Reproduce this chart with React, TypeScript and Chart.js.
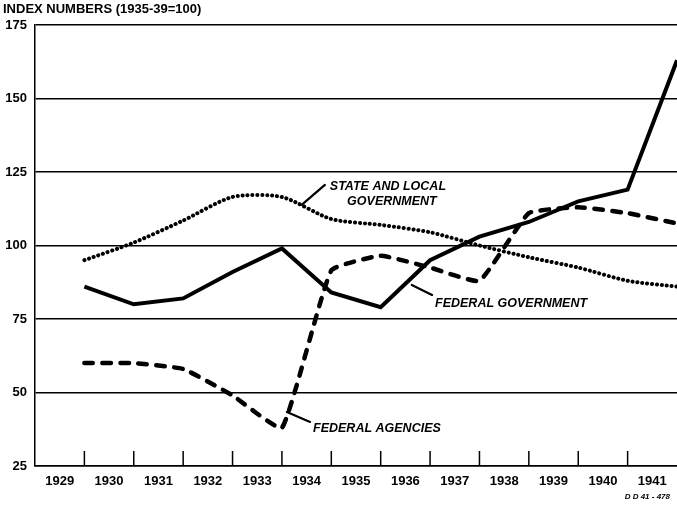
import React, { useEffect, useRef } from 'react';
import { Chart, registerables } from 'chart.js';

Chart.register(...registerables);

// Year labels on the x axis (each label sits in the middle of its year)
const yearLabels = ['1929', '1930', '1931', '1932', '1933', '1934', '1935', '1936', '1937', '1938', '1939', '1940', '1941'];
// Points are plotted at the boundaries between years
const pointYears = [1930, 1931, 1932, 1933, 1934, 1935, 1936, 1937, 1938, 1939, 1940, 1941, 1942];

const federalGovernment = [86, 80, 82, 91, 99, 84, 79, 95, 103, 108, 115, 119, 163];
const stateAndLocal = [95, 101, 108.5, 116.5, 116.5, 109, 107, 104.5, 100, 96, 92.5, 88, 86];
const federalAgencies = [60, 60, 58, 49, 38, 91.5, 96.5, 92.5, 88, 111, 113, 111, 107.5];

const yMin = 25;
const yMax = 175;
const yStep = 25;

const titleText = 'INDEX NUMBERS (1935-39=100)';
const creditText = 'D D 41 - 478';

// Annotation labels, placed in data coordinates
const annotations = [
  {
    lines: [
      { text: 'STATE AND LOCAL', x: 1934.97, y: 119.9 },
      { text: 'GOVERNMENT', x: 1935.32, y: 115.1 },
    ],
    leader: [[1934.87, 120.6], [1934.4, 113.8]],
  },
  {
    lines: [{ text: 'FEDERAL GOVERNMENT', x: 1937.1, y: 80.4 }],
    leader: [[1937.04, 83.2], [1936.63, 86.6]],
  },
  {
    lines: [{ text: 'FEDERAL AGENCIES', x: 1934.63, y: 37.9 }],
    leader: [[1934.57, 40.0], [1934.1, 43.4]],
  },
];

const FONT = '"Liberation Sans", Arial, sans-serif';

const decorPlugin = {
  id: 'decor',
  afterDatasetsDraw(chart: any) {
    const { ctx, chartArea, scales } = chart;
    const x = scales.x;
    const y = scales.y;
    ctx.save();
    ctx.strokeStyle = '#000';
    ctx.fillStyle = '#000';
    // inward tick marks at year boundaries
    ctx.lineWidth = 1.5;
    pointYears.slice(0, -1).forEach((v) => {
      const px = x.getPixelForValue(v);
      ctx.beginPath();
      ctx.moveTo(px, chartArea.bottom);
      ctx.lineTo(px, chartArea.bottom - 15);
      ctx.stroke();
    });
    // annotations
    ctx.font = `italic bold 12.5px ${FONT}`;
    ctx.textBaseline = 'middle';
    ctx.textAlign = 'left';
    annotations.forEach((a) => {
      a.lines.forEach((l) => {
        ctx.fillText(l.text, x.getPixelForValue(l.x), y.getPixelForValue(l.y));
      });
      const [p0, p1] = a.leader;
      ctx.lineWidth = 2.2;
      ctx.lineCap = 'round';
      ctx.beginPath();
      ctx.moveTo(x.getPixelForValue(p0[0]), y.getPixelForValue(p0[1]));
      ctx.lineTo(x.getPixelForValue(p1[0]), y.getPixelForValue(p1[1]));
      ctx.stroke();
    });
    // title
    ctx.font = `bold 13px ${FONT}`;
    ctx.textBaseline = 'middle';
    ctx.fillText(titleText, 3, 9);
    // credit
    ctx.font = `italic bold 8px ${FONT}`;
    ctx.textAlign = 'right';
    ctx.fillText(creditText, 670, 497);
    ctx.restore();
  },
};

export default function App() {
  const canvasRef = useRef<HTMLCanvasElement | null>(null);

  useEffect(() => {
    if (!canvasRef.current) return;
    const chart = new Chart(canvasRef.current, {
      type: 'line',
      data: {
        datasets: [
          {
            label: 'Federal Government',
            data: pointYears.map((px, i) => ({ x: px, y: federalGovernment[i] })),
            borderColor: '#000',
            borderWidth: 4,
            pointRadius: 0,
            tension: 0,
            borderJoinStyle: 'miter',
          },
          {
            label: 'State and Local Government',
            data: pointYears.map((px, i) => ({ x: px, y: stateAndLocal[i] })),
            borderColor: '#000',
            borderWidth: 4,
            borderDash: [0.1, 4.8],
            borderCapStyle: 'round',
            pointRadius: 0,
            tension: 0.25,
          },
          {
            label: 'Federal Agencies',
            data: pointYears.map((px, i) => ({ x: px, y: federalAgencies[i] })),
            borderColor: '#000',
            borderWidth: 4.5,
            borderDash: [8.5, 9.5],
            borderCapStyle: 'round',
            pointRadius: 0,
            tension: 0.12,
          },
        ],
      },
      options: {
        animation: false,
        responsive: false,
        events: [],
        layout: { padding: { top: 25, right: 0, bottom: 0, left: 0 } },
        plugins: {
          legend: { display: false },
          tooltip: { enabled: false },
          title: { display: false },
        },
        scales: {
          x: {
            type: 'linear',
            min: 1929,
            max: 1942,
            afterBuildTicks: (scale: any) => {
              scale.ticks = yearLabels.map((lab) => ({ value: Number(lab) + 0.5 }));
            },
            afterFit: (scale: any) => {
              scale.height = 39;
            },
            grid: { display: false, drawTicks: false },
            border: { display: true, color: '#000', width: 1.5 },
            ticks: {
              autoSkip: false,
              maxRotation: 0,
              padding: 8,
              color: '#000',
              font: { family: FONT, size: 13, weight: 'bold' },
              callback: (_v: any, i: number) => yearLabels[i],
            },
          },
          y: {
            type: 'linear',
            min: yMin,
            max: yMax,
            afterFit: (scale: any) => {
              scale.width = 35;
            },
            grid: { color: '#000', lineWidth: 1.5, drawTicks: false },
            border: { display: true, color: '#000', width: 1.5 },
            ticks: {
              stepSize: yStep,
              padding: 8,
              color: '#000',
              font: { family: FONT, size: 13, weight: 'bold' },
            },
          },
        },
      },
      plugins: [decorPlugin],
    } as any);
    return () => chart.destroy();
  }, []);

  return (
    <div style={{ position: 'absolute', left: 0, top: 0, width: 677, height: 505, background: '#fff' }}>
      <canvas ref={canvasRef} width={677} height={505} />
    </div>
  );
}
